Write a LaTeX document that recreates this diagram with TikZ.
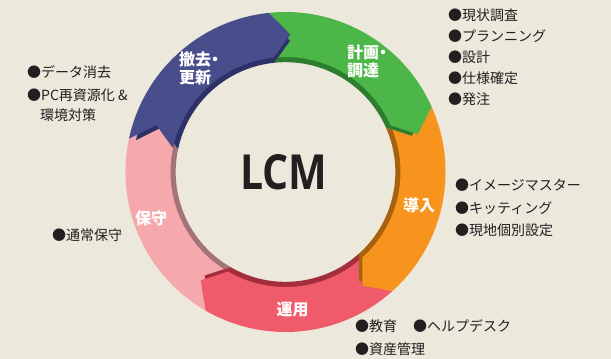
\documentclass[tikz,border=0pt]{standalone}
\usepackage{fontspec}
\usepackage{graphicx}
\newfontfamily\jp{Noto Sans CJK JP}
\newfontfamily\lcmf{Open Sans}
\definecolor{bg}{HTML}{ECE8DC}
\definecolor{ink}{HTML}{231F20}
\definecolor{blueF}{HTML}{484D8C}
\definecolor{blueD}{HTML}{2E3168}
\definecolor{greenF}{HTML}{4CB649}
\definecolor{greenD}{HTML}{2C7D2E}
\definecolor{orangeF}{HTML}{F7941E}
\definecolor{orangeD}{HTML}{A8620E}
\definecolor{redF}{HTML}{F05B6B}
\definecolor{redD}{HTML}{A52E3D}
\definecolor{pinkF}{HTML}{F6A9AC}
\definecolor{pinkD}{HTML}{A4737A}
\def\Ro{160pt}
\def\Ri{115pt}
\def\Rm{137.5pt}
\newcommand\lcmarrowpath[1]{(#1:\Ro) arc[start angle=#1, end angle=#1-72, radius=\Ro] -- (#1-80:\Rm) -- (#1-72:\Ri) arc[start angle=#1-72, end angle=#1, radius=\Ri] -- (#1-8:\Rm) -- cycle}
\begin{document}
\begin{tikzpicture}[x=1pt,y=1pt,
  lst/.style={anchor=west, inner sep=0pt, font=\jp\fontsize{14}{16}\selectfont, text=ink},
  lbl/.style={inner sep=0pt, font=\jp\bfseries\fontsize{16}{18}\selectfont, text=white},
  lbll/.style={lbl, anchor=west}]
\fill[bg] (0,0) rectangle (611,359);
\useasboundingbox (0,0) rectangle (611,359);
\begin{scope}[shift={(285.5,187)}]
  \foreach \a/\fc/\dc in {-120/pinkF/pinkD, -48/redF/redD, 24/orangeF/orangeD, 96/greenF/greenD, 168/blueF/blueD}{
    \fill[\dc, scale=0.955] \lcmarrowpath{\a};
    \fill[\fc] \lcmarrowpath{\a};
  }
\end{scope}
\node[anchor=base west, inner sep=0pt, text=ink] (lcm) at (240,169) {\resizebox{87pt}{35pt}{\lcmf\bfseries LCM}};
% labels in arrows
\node[lbll] (plan1) at (347,307) {計画\kern-4pt・};
\node[lbll] (plan2) at (347,289) {調達};
\node[lbll] (rem1) at (179,299) {撤去\kern-4pt・};
\node[lbll] (rem2) at (179,281) {更新};
\node[lbl] (intro) at (419,154) {導入};
\node[lbl] (maint) at (151,141) {保守};
\node[lbl] (ops) at (292.5,49) {運用};
% lists
\node[lst] (p1) at (448,344) {●現状調査};
\node[lst] (p2) at (448,323) {●プランニング};
\node[lst] (p3) at (448,302) {●設計};
\node[lst] (p4) at (448,281) {●仕様確定};
\node[lst] (p5) at (448,260) {●発注};
\node[lst] (i1) at (455,174) {●イメージマスター};
\node[lst] (i2) at (455,151) {●キッティング};
\node[lst] (i3) at (455,129) {●現地個別設定};
\node[lst] (o1) at (355,33) {●教育};
\node[lst] (o2) at (413,33) {●ヘルプデスク};
\node[lst] (o3) at (355,10) {●資産管理};
\node[lst] (r1) at (27,287) {●データ消去};
\node[lst] (r2) at (27,264) {●PC再資源化 \&};
\node[lst] (r3) at (40,244) {環境対策};
\node[lst] (m1) at (52,124) {●通常保守};
\end{tikzpicture}
\end{document}
